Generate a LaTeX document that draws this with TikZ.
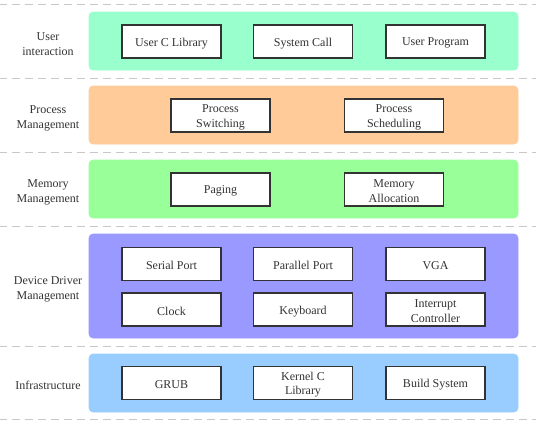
\documentclass[tikz,border=0pt]{standalone}
\usepackage{fontspec}
\setmainfont{Liberation Serif}
\newfontfamily\lserif{Liberation Serif}
\definecolor{txt}{HTML}{333333}
\definecolor{bord}{HTML}{333333}
\definecolor{dashc}{HTML}{C8C8C8}
\definecolor{cUser}{HTML}{99FFCC}
\definecolor{cProc}{HTML}{FFCC99}
\definecolor{cMem}{HTML}{99FF99}
\definecolor{cDev}{HTML}{9999FF}
\definecolor{cInf}{HTML}{99CCFF}
\newcommand\itembox[3]{%
  \node[item] (#1) at (#2) {};
  \node[itext] (#1-t) at ([yshift=-1.8pt]#1.center) {#3};}
\begin{document}
\begin{tikzpicture}[x=1pt,y=-1pt,
  every node/.style={font=\lserif\fontsize{12}{14.5}\selectfont, text=txt},
  band/.style={rounded corners=4pt, line width=0.6pt},
  item/.style={draw=bord, line width=1.5pt, fill=white, minimum width=99pt, minimum height=33pt, inner sep=0pt},
  itext/.style={inner sep=0pt, align=center},
  lbl/.style={align=center, font=\lserif\fontsize{12}{15}\selectfont},
  sep/.style={draw=dashc, line width=1.6pt, dash pattern=on 8.5pt off 4.5pt, dash phase=1.5pt}
]
\useasboundingbox (0,0) rectangle (536,421);
% separators
\foreach \y in {4.5,78.5,152.5,226.5,346.5,419.5}{
  \draw[sep] (0,\y) -- (536,\y);
}
% bands
\draw[band, fill=cUser, draw=cUser] (89,12) rectangle (518,70);
\draw[band, fill=cProc, draw=cProc] (89,86) rectangle (518,144);
\draw[band, fill=cMem, draw=cMem] (89,160) rectangle (518,218);
\draw[band, fill=cDev, draw=cDev] (89,234) rectangle (518,338);
\draw[band, fill=cInf, draw=cInf] (89,354) rectangle (518,412);
% labels
\node[lbl] (l1) at (48,44) {User\\interaction};
\node[lbl] (l2) at (48,118) {Process\\Management};
\node[lbl] (l3) at (48,192) {Memory\\Management};
\node[lbl] (l4) at (48,289.5) {Device Driver\\Management};
\node[lbl] (l5) at (48,385.5) {Infrastructure};
% user
\itembox{ucl}{171.5,41.5}{User C Library}
\itembox{sc}{303,41.5}{System Call}
\itembox{up}{435.5,41.5}{User Program}
% process
\itembox{ps}{220.5,115.5}{Process\\Switching}
\itembox{psch}{394,115.5}{Process\\Scheduling}
% memory
\itembox{pg}{220.5,189.5}{Paging}
\itembox{ma}{394,189.5}{Memory\\Allocation}
% device
\itembox{sp}{171.5,264}{Serial Port}
\itembox{pp}{303,264}{Parallel Port}
\itembox{vga}{435.5,264}{VGA}
\itembox{clk}{171.5,309.5}{Clock}
\itembox{kb}{303,309.5}{Keyboard}
\itembox{ic}{435.5,309.5}{Interrupt\\Controller}
% infrastructure
\itembox{grub}{171.5,383}{GRUB}
\itembox{kcl}{303,383}{Kernel C\\Library}
\itembox{bs}{435.5,383}{Build System}
\end{tikzpicture}
\end{document}
